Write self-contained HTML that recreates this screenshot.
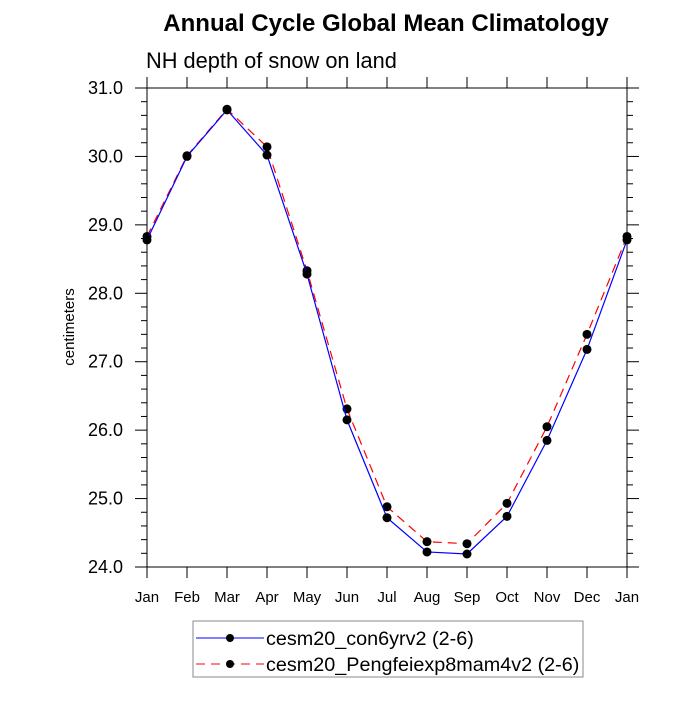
<!DOCTYPE html>
<html><head><meta charset="utf-8"><style>body{margin:0;background:#fff}svg{font-family:"Liberation Sans",sans-serif}</style></head>
<body>
<svg width="700" height="700" id="c">
<text x="386" y="31" text-anchor="middle" font-size="24" font-weight="bold">Annual Cycle Global Mean Climatology</text>
<text x="146" y="68" font-size="21.8">NH depth of snow on land</text>
<text transform="translate(74,327) rotate(-90)" text-anchor="middle" font-size="15">centimeters</text>
<rect x="147" y="88" width="480" height="479" fill="none" stroke="#000" stroke-width="1"/>
<g id="axes"></g><g id="series"></g>
<rect x="193" y="621" width="390" height="56" fill="#fff" stroke="#888"/>
<g><line x1="196" y1="638" x2="264" y2="638" stroke="#00f"/><circle cx="230" cy="638" r="4"/><text x="266" y="645" font-size="19.8">cesm20_con6yrv2 (2-6)</text></g>
<g><line x1="196" y1="664" x2="264" y2="664" stroke="#f00" stroke-dasharray="9,6"/><circle cx="230" cy="664" r="4"/><text x="266" y="671" font-size="19.8">cesm20_Pengfeiexp8mam4v2 (2-6)</text></g>
</svg>
<script>
const months=["Jan","Feb","Mar","Apr","May","Jun","Jul","Aug","Sep","Oct","Nov","Dec","Jan"];
const yTicks=[24,25,26,27,28,29,30,31];
const yLabels=["24.0","25.0","26.0","27.0","28.0","29.0","30.0","31.0"];
const blueVals=[28.78,30.0,30.68,30.02,28.28,26.15,24.72,24.22,24.19,24.74,25.85,27.18,28.78];
const redVals=[28.83,30.01,30.69,30.14,28.33,26.31,24.88,24.37,24.34,24.93,26.05,27.40,28.83];
const NS="http://www.w3.org/2000/svg";
const X0=147,X1=627,Y0=567,Y1=88,YMIN=24,YMAX=31;
const xs=i=>X0+(X1-X0)*i/(months.length-1);
const ys=v=>Y0-(Y0-Y1)*(v-YMIN)/(YMAX-YMIN);
function mk(t,a,p){const e=document.createElementNS(NS,t);for(const k in a)e.setAttribute(k,a[k]);p.appendChild(e);return e;}
const ax=document.getElementById('axes');
months.forEach((m,i)=>{const x=xs(i);
mk('line',{x1:x,y1:Y0,x2:x,y2:Y0+11,stroke:'#000'},ax);
mk('line',{x1:x,y1:Y1,x2:x,y2:Y1-11,stroke:'#000'},ax);
const t=mk('text',{x:x,y:Y0+35,'text-anchor':'middle','font-size':'15'},ax);t.textContent=m;

});
for(let v=YMIN;v<=YMAX+1e-9;v+=0.2){const y=ys(v);const maj=Math.abs(v-Math.round(v))<1e-6;const L=maj?12:6;
mk('line',{x1:X0-L,y1:y,x2:X0,y2:y,stroke:'#000'},ax);mk('line',{x1:X1,y1:y,x2:X1+L,y2:y,stroke:'#000'},ax);}
yTicks.forEach((v,i)=>{const t=mk('text',{x:X0-24,y:ys(v)+6,'text-anchor':'end','font-size':'18'},ax);t.textContent=yLabels[i];

});
const sg=document.getElementById('series');
function draw(vals,col,dash,name){const g=mk('g',{},sg);


mk('polyline',{points:vals.map((v,i)=>xs(i)+','+ys(v)).join(' '),fill:'none',stroke:col,'stroke-width':1.2,'stroke-dasharray':dash},g);
vals.forEach((v,i)=>{const c=mk('circle',{cx:xs(i),cy:ys(v),r:4.5,fill:'#000'},g);

});}
draw(redVals,'#f00','9,6','series-pengfeiexp8mam4v2');
draw(blueVals,'#00f','none','series-con6yrv2');
</script>
</body></html>
